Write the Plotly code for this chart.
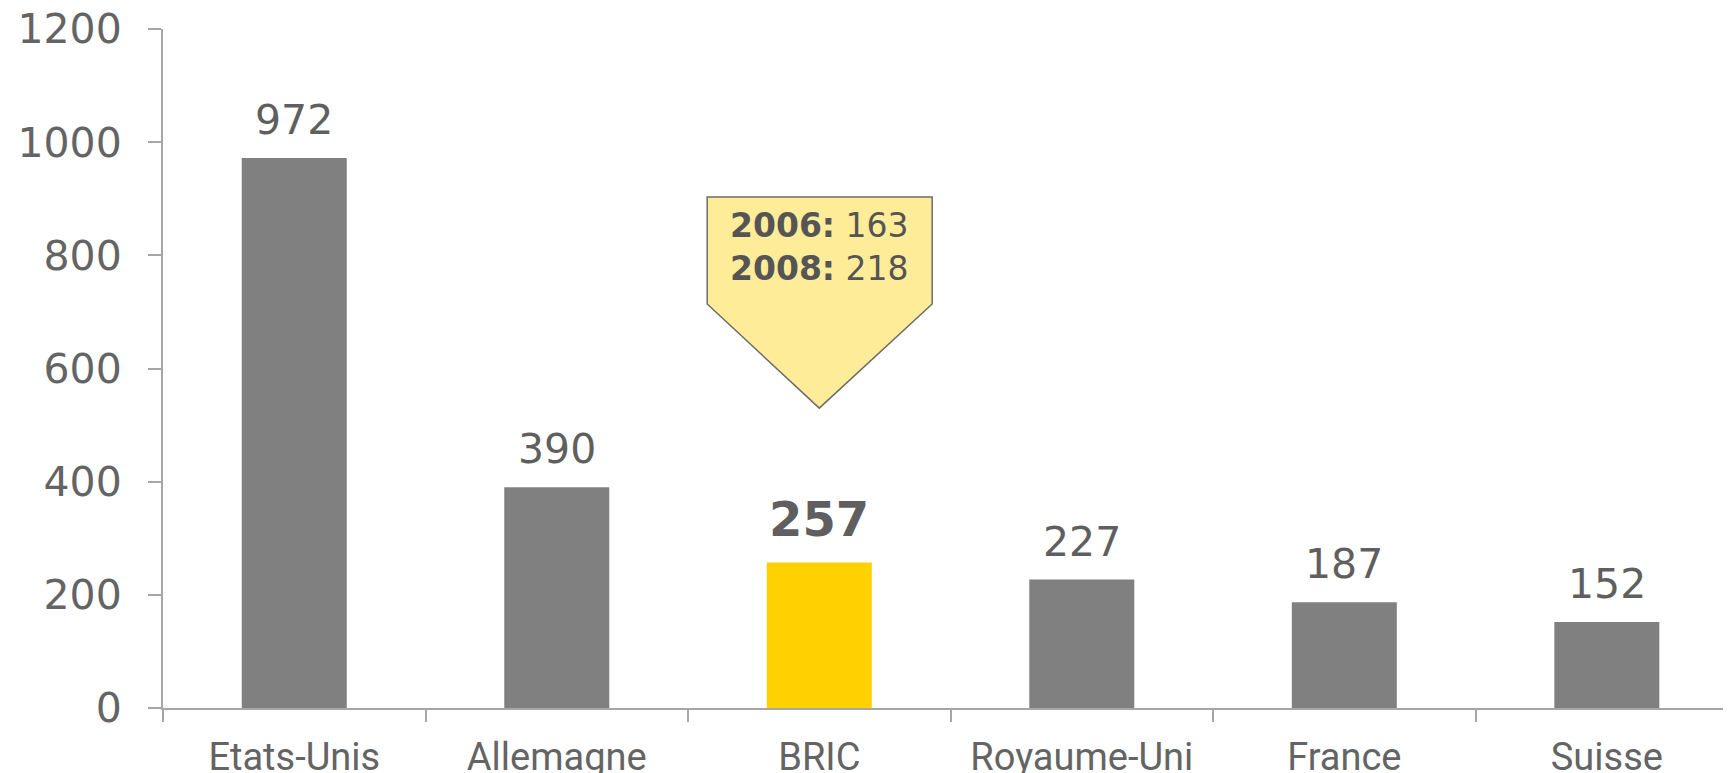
import plotly.graph_objects as go

# data
categories = ["Etats-Unis", "Allemagne", "BRIC", "Royaume-Uni", "France", "Suisse"]
values = [972, 390, 257, 227, 187, 152]
highlight = "BRIC"
callout_lines = [("2006:", 163), ("2008:", 218)]

GREY = "#808080"
YELLOW = "#FFD100"
TEXT = "#646464"
AXIS = "#a6a6a6"

colors = [YELLOW if c == highlight else GREY for c in categories]

fig = go.Figure(
    go.Bar(
        x=categories,
        y=values,
        marker_color=colors,
        marker_line_width=0,
        width=0.4,
        hoverinfo="skip",
    )
)

# value labels above bars
for c, v in zip(categories, values):
    hi = c == highlight
    fig.add_annotation(
        x=c,
        y=v,
        text=f"<b>{v}</b>" if hi else str(v),
        showarrow=False,
        yanchor="bottom",
        yshift=14 if hi else 12,
        font=dict(family="DejaVu Sans", size=48 if hi else 41, color="#5f5f5f"),
    )

# callout above the highlighted bar
hx = categories.index(highlight)
left, right = hx - 0.427, hx + 0.43
top, mid, tip = 903, 714, 530
fig.add_shape(
    type="path",
    path=f"M {left},{top} L {right},{top} L {right},{mid} L {hx},{tip} L {left},{mid} Z",
    xref="x",
    yref="y",
    fillcolor="#FFEC99",
    line=dict(color="#6b6b6b", width=1.5),
    layer="above",
)
fig.add_annotation(
    x=hx,
    y=(top + mid) / 2 + 6,
    text="<br>".join(f"<b>{k}</b> {v}" for k, v in callout_lines),
    showarrow=False,
    align="center",
    font=dict(family="DejaVu Sans", size=33, color="#555555"),
)

# page body has an 8px margin, so the figure is a bit smaller than the window
fig.update_layout(
    width=1723,
    height=765,
    margin=dict(l=155, r=0, t=21, b=65),
    paper_bgcolor="white",
    plot_bgcolor="white",
    showlegend=False,
)
fig.update_xaxes(
    type="category",
    range=[-0.5, 5.473],
    showline=True,
    linecolor=AXIS,
    linewidth=2,
    ticks="outside",
    tickson="boundaries",
    ticklen=12,
    tickcolor=AXIS,
    tickwidth=1.5,
    showgrid=False,
    automargin=False,
    ticklabelstandoff=14,
    ticklabeloverflow="allow",
    tickfont=dict(family="Roboto", size=38, color=TEXT),
)
fig.update_yaxes(
    range=[0, 1200],
    tickvals=[0, 200, 400, 600, 800, 1000, 1200],
    showline=True,
    linecolor=AXIS,
    linewidth=2,
    ticks="outside",
    ticklen=13,
    tickcolor=AXIS,
    tickwidth=1.5,
    showgrid=False,
    zeroline=False,
    automargin=False,
    ticklabelstandoff=18,
    ticklabeloverflow="allow",
    tickfont=dict(family="DejaVu Sans", size=41, color=TEXT),
)

fig.write_html("out.html")
